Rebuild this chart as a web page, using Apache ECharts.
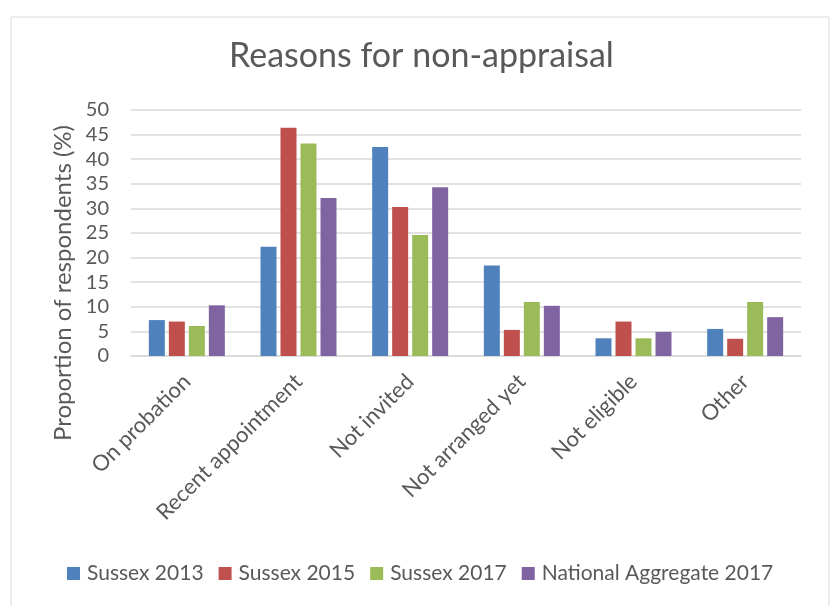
<!DOCTYPE html>
<html>
<head>
<meta charset="utf-8">
<script src="https://cdn.jsdelivr.net/npm/echarts@6/dist/echarts.min.js"></script>
<style>html,body{margin:0;padding:0;background:#fff}#c{width:830px;height:606px}</style>
</head>
<body>
<div id="c"></div>
<script>
const categories = ['On probation', 'Recent appointment', 'Not invited', 'Not arranged yet', 'Not eligible', 'Other'];
const sussex2013 = [7.3, 22.2, 42.5, 18.4, 3.6, 5.5];
const sussex2015 = [7.0, 46.4, 30.3, 5.3, 7.0, 3.5];
const sussex2017 = [6.1, 43.2, 24.6, 11.0, 3.6, 11.0];
const national2017 = [10.3, 32.1, 34.3, 10.2, 4.9, 7.9];
const seriesNames = ['Sussex 2013', 'Sussex 2015', 'Sussex 2017', 'National Aggregate 2017'];
const colors = ['#4F81BD', '#C0504D', '#9BBB59', '#8064A2'];
const yTicks = { min: 0, max: 50, interval: 5 };

const FONT = 'Lato, "Open Sans", sans-serif';
const chart = echarts.init(document.getElementById('c'));
const data = [sussex2013, sussex2015, sussex2017, national2017];
chart.setOption({
  animation: false,
  color: colors,
  textStyle: { fontFamily: FONT },
  title: {
    text: 'Reasons for non-appraisal',
    left: 224,
    top: 34,
    textStyle: { fontFamily: FONT, fontSize: 34, fontWeight: 'normal', color: '#595959' }
  },
  graphic: [
    { type: 'rect', shape: { x: 11, y: 17, width: 818, height: 600 }, style: { fill: 'none', stroke: '#D9D9D9', lineWidth: 1 }, z: -1 },
    { type: 'text', x: 63, y: 283, rotation: Math.PI / 2,
      style: { text: 'Proportion of respondents (%)', font: '24px ' + FONT, fill: '#595959', align: 'center', verticalAlign: 'middle' } }
  ],
  legend: {
    data: seriesNames,
    bottom: 17,
    left: 62,
    icon: 'rect',
    itemWidth: 13,
    itemHeight: 13,
    itemGap: 15,
    textStyle: { fontFamily: FONT, fontSize: 21, color: '#595959', padding: [0, 0, 0, 2] }
  },
  grid: { left: 131, right: 29, top: 110, bottom: 250, containLabel: false },
  xAxis: {
    type: 'category',
    data: categories,
    axisLine: { lineStyle: { color: '#D9D9D9', width: 1.5 } },
    axisTick: { show: false },
    axisLabel: { rotate: 45, margin: 22, fontFamily: FONT, fontSize: 22, color: '#595959', interval: 0 }
  },
  yAxis: {
    type: 'value',
    min: yTicks.min, max: yTicks.max, interval: yTicks.interval,
    axisLine: { show: false },
    axisTick: { show: false },
    axisLabel: { margin: 22, fontFamily: FONT, fontSize: 20, color: '#595959' },
    splitLine: { lineStyle: { color: '#D9D9D9', width: 1.5 } }
  },
  series: seriesNames.map((n, i) => ({
    name: n,
    type: 'bar',
    data: data[i],
    barWidth: 16,
    barGap: '25%',
    itemStyle: { color: colors[i] }
  }))
});
</script>
</body>
</html>
